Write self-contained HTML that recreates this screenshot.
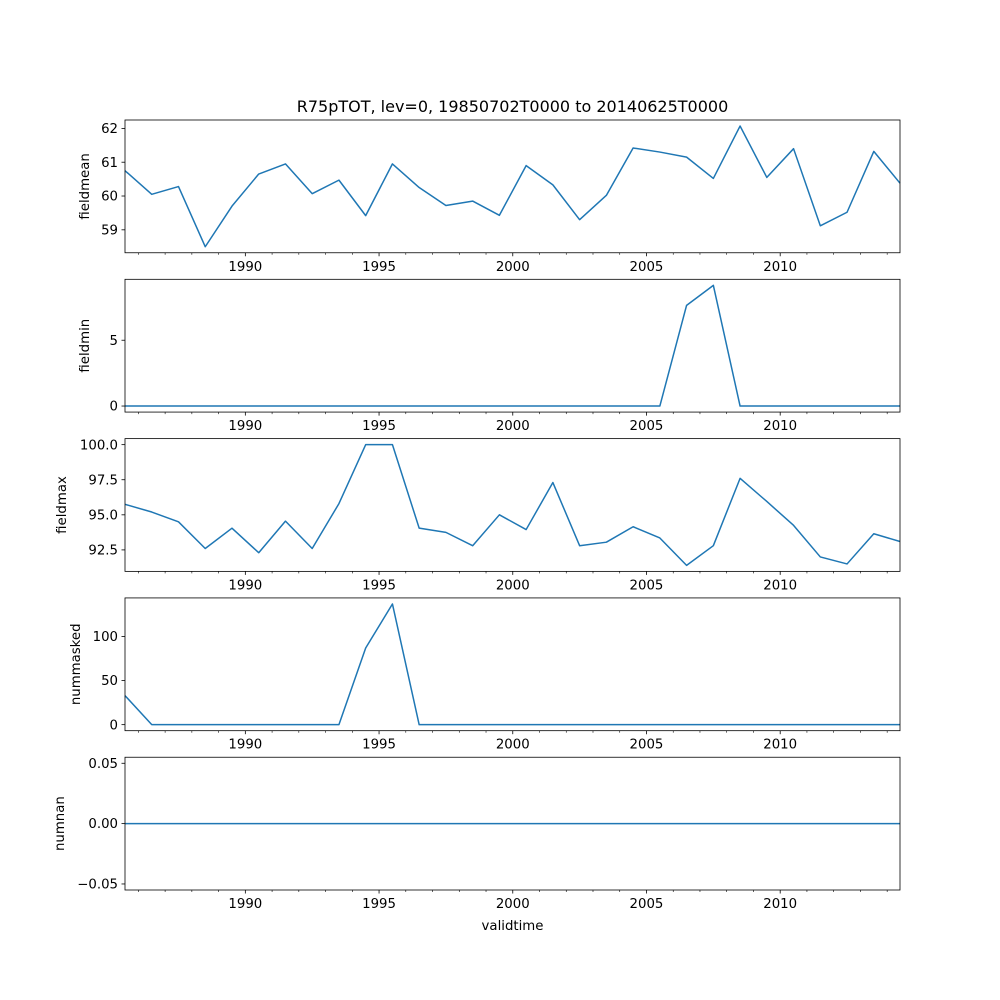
<!DOCTYPE html>
<html><head><meta charset="utf-8"><style>
html,body{margin:0;padding:0;background:#fff}
svg{display:block;font-family:"DejaVu Sans","Liberation Sans",sans-serif}
</style></head><body>
<svg id="fig" width="1000" height="1000" viewBox="0 0 1000 1000">
<rect width="1000" height="1000" fill="#fff"/>
<text x="512.5" y="112" font-size="16" text-anchor="middle">R75pTOT, lev=0, 19850702T0000 to 20140625T0000</text>
<text x="512.5" y="930" font-size="13.3" text-anchor="middle">validtime</text>
</svg>
<script>
const years = [1985.5,1986.5,1987.5,1988.5,1989.5,1990.5,1991.5,1992.5,1993.5,1994.5,1995.5,1996.5,1997.5,1998.5,1999.5,2000.5,2001.5,2002.5,2003.5,2004.5,2005.5,2006.5,2007.5,2008.5,2009.5,2010.5,2011.5,2012.5,2013.5,2014.48];
const fieldmean = [60.75,60.05,60.28,58.5,59.7,60.65,60.95,60.07,60.47,59.42,60.95,60.25,59.72,59.85,59.43,60.9,60.33,59.3,60.02,61.42,61.3,61.15,60.52,62.07,60.55,61.4,59.12,59.52,61.32,60.38];
const fieldmin = [0,0,0,0,0,0,0,0,0,0,0,0,0,0,0,0,0,0,0,0,0,7.65,9.17,0,0,0,0,0,0,0];
const fieldmax = [95.75,95.2,94.5,92.6,94.05,92.3,94.55,92.6,95.8,100,100,94.05,93.75,92.8,95.0,93.95,97.3,92.8,93.05,94.15,93.35,91.4,92.8,97.6,95.95,94.25,92.0,91.5,93.65,93.1];
const nummasked = [33,0,0,0,0,0,0,0,0,87,137,0,0,0,0,0,0,0,0,0,0,0,0,0,0,0,0,0,0,0];
const numnan = [0,0,0,0,0,0,0,0,0,0,0,0,0,0,0,0,0,0,0,0,0,0,0,0,0,0,0,0,0,0];
const xTicks = [1990,1995,2000,2005,2010];
const panels = [
 {name:'fieldmean', vals:fieldmean, ticks:[59,60,61,62], labels:['59','60','61','62']},
 {name:'fieldmin', vals:fieldmin, ticks:[0,5], labels:['0','5']},
 {name:'fieldmax', vals:fieldmax, ticks:[92.5,95,97.5,100], labels:['92.5','95.0','97.5','100.0']},
 {name:'nummasked', vals:nummasked, ticks:[0,50,100], labels:['0','50','100']},
 {name:'numnan', vals:numnan, ticks:[-0.05,0,0.05], labels:['\u22120.05','0.00','0.05']}
];
const NS='http://www.w3.org/2000/svg', svg=document.getElementById('fig');
const L=125,R=900,H=132.76,GAP=26.55,TOP=120;
const x0=years[0], x1=years[years.length-1];
const xs=t=>L+(t-x0)/(x1-x0)*(R-L);
function mk(tag,attrs,parent){const e=document.createElementNS(NS,tag);for(const k in attrs)e.setAttribute(k,attrs[k]);(parent||svg).appendChild(e);return e;}
panels.forEach((p,i)=>{
 const top=TOP+i*(H+GAP), bot=top+H;
 let mn=Math.min(...p.vals), mx=Math.max(...p.vals);
 if(mn===mx){mn-=0.05;mx+=0.05;}
 const pad=(mx-mn)*0.05; mn-=pad; mx+=pad;
 const ys=v=>bot-(v-mn)/(mx-mn)*H;
 const g=mk('g',{});
 
 
 const line=mk('polyline',{points:p.vals.map((v,j)=>xs(years[j]).toFixed(2)+','+ys(v).toFixed(2)).join(' '),fill:'none',stroke:'#1f77b4','stroke-width':1.5,'stroke-linejoin':'round'},g);
 
 
 const fr=mk('rect',{x:L,y:top,width:R-L,height:H,fill:'none',stroke:'#000','stroke-width':0.8},g);
 
 
 p.ticks.forEach((t,k)=>{
  const y=ys(t);
  mk('line',{x1:L-3.5,x2:L,y1:y,y2:y,stroke:'#000','stroke-width':0.8},g);
  const tx=mk('text',{x:L-7,y:y+4.6,'font-size':13.3,'text-anchor':'end'},g);
  tx.textContent=p.labels[k];
  
  
 });
 for(let yr=1986;yr<=2014;yr++){
  const x=L+(yr-x0)/(x1-x0)*(R-L);
  const major=xTicks.includes(yr);
  mk('line',{x1:x,x2:x,y1:bot,y2:bot+(major?3.5:2),stroke:'#000','stroke-width':major?0.8:0.6},g);
 }
 xTicks.forEach(t=>{
  const tx=mk('text',{x:L+(t-x0)/(x1-x0)*(R-L),y:bot+18,'font-size':13.3,'text-anchor':'middle'},g);
  tx.textContent=String(t);
  
  
 });
 const yl=mk('text',{x:0,y:0,'font-size':13.3,'text-anchor':'middle',transform:`translate(${i===2?66:i===3?80:i===4?64:89},${top+H/2}) rotate(-90)`},g);
 yl.textContent=p.name;
 
 
});
</script>
</body></html>
